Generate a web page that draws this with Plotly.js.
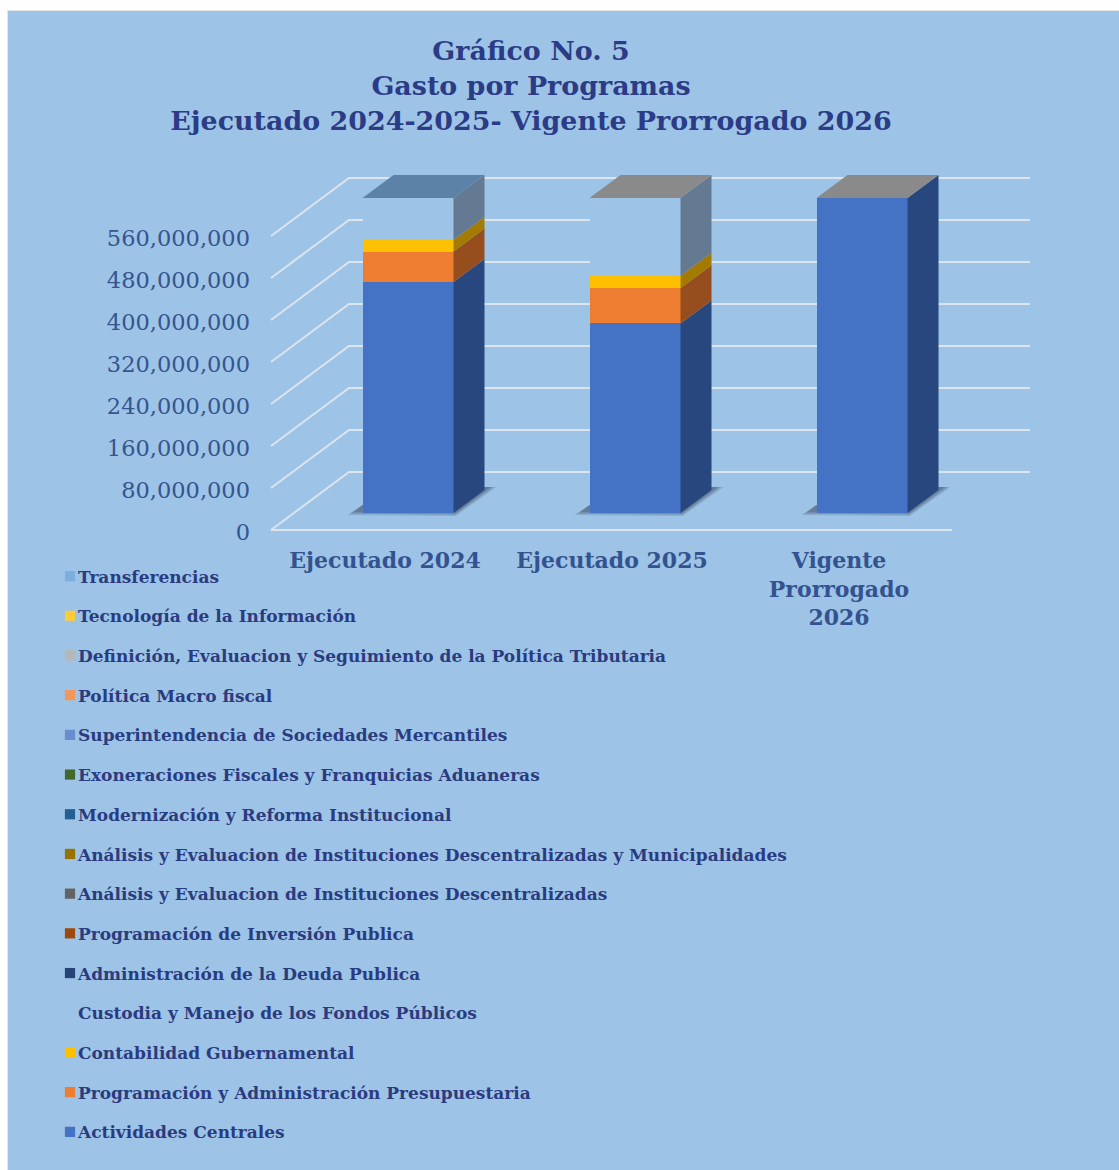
<!DOCTYPE html>
<html><head><meta charset="utf-8">
<script src="https://cdn.plot.ly/plotly-3.0.1.min.js"></script>
<style>html,body{margin:0;padding:0;background:#fff;overflow:hidden}
#chart{position:absolute;left:8px;top:11px;width:1111px;height:1159px;box-shadow:0 0 0 1px #dfe5ea}</style>
</head><body><div id="chart"></div>
<script>
const FONT = '"DejaVu Serif",serif';
const categories = ["Ejecutado 2024","Ejecutado 2025","Vigente<br>Prorrogado<br>2026"];
const tickValues = [0,80000000,160000000,240000000,320000000,400000000,480000000,560000000];

const actividadesCentrales = [440000000,361000000,600000000];
const programacionPresupuestaria = [58000000,67000000,0];
const contabilidadGubernamental = [22000000,24000000,0];
const custodiaFondos = [80000000,148000000,0];
const administracionDeuda = [0,0,0];
const programacionInversion = [0,0,0];
const analisisDescentralizadas = [0,0,0];
const analisisMunicipalidades = [0,0,0];
const modernizacion = [0,0,0];
const exoneraciones = [0,0,0];
const superintendencia = [0,0,0];
const politicaMacro = [0,0,0];
const politicaTributaria = [0,0,0];
const tecnologia = [0,0,0];
const transferencias = [0,0,0];

const BG = '#9dc3e6';
const seriesList = [
 ["Actividades Centrales",actividadesCentrales,'#4472c4','#28477f'],
 ["Programación y Administración Presupuestaria",programacionPresupuestaria,'#ed7d31','#964e1f'],
 ["Contabilidad Gubernamental",contabilidadGubernamental,'#ffc000','#a37b00'],
 ["Custodia y Manejo de los Fondos Públicos",custodiaFondos,BG,'#647a93'],
 ["Administración de la Deuda Publica",administracionDeuda,'#264478','#264478'],
 ["Programación de Inversión Publica",programacionInversion,'#9e480e','#9e480e'],
 ["Análisis y Evaluacion de Instituciones Descentralizadas",analisisDescentralizadas,'#636363','#636363'],
 ["Análisis y Evaluacion de Instituciones Descentralizadas y Municipalidades",analisisMunicipalidades,'#997300','#997300'],
 ["Modernización y Reforma Institucional",modernizacion,'#255e91','#255e91'],
 ["Exoneraciones Fiscales y Franquicias Aduaneras",exoneraciones,'#43682b','#43682b'],
 ["Superintendencia de Sociedades Mercantiles",superintendencia,'#698ed0','#698ed0'],
 ["Política Macro fiscal",politicaMacro,'#f1975a','#f1975a'],
 ["Definición, Evaluacion y Seguimiento de la Política Tributaria",politicaTributaria,'#b7b7b7','#b7b7b7'],
 ["Tecnología de la Información",tecnologia,'#ffcd33','#ffcd33'],
 ["Transferencias",transferencias,'#7cafdd','#7cafdd']
];
const topColors = ['#5c82a8','#8a8a8a','#8a8a8a'];

// page geometry (px)
const OX=8, OY=11, W=1111, H=1159;
const L=253, R=1040, T=150, B=540;
const CAT_X0=385, CAT_STEP=227, ZERO_Y=530, PX_PER_VAL=42/80000000;
const WALL_DX=78, WALL_DY=58, BAR_PLANE_DX=23, BAR_PLANE_DY=17, BAR_DX=31, BAR_DY=23;
const BAR_W=91/CAT_STEP;
const xu = px => px/CAT_STEP, yu = px => px/PX_PER_VAL;
const xRange=[(L-CAT_X0)/CAT_STEP,(R-CAT_X0)/CAT_STEP];
const yRange=[(ZERO_Y-B)/PX_PER_VAL,(ZERO_Y-T)/PX_PER_VAL];
const X_LEFT=xu(271-CAT_X0), X_FLOOR_END=xu(952-CAT_X0), X_WALL_END=xu(1030-CAT_X0);

const traces=[];
const GRID='#dbe5f0';
tickValues.forEach(v=>{
  const xs=[X_LEFT,X_LEFT+xu(WALL_DX),X_WALL_END], ys=[v,v+yu(WALL_DY),v+yu(WALL_DY)];
  traces.push({type:'scatter',mode:'lines',x:xs,y:ys,xaxis:'x',yaxis:'y',showlegend:false,hoverinfo:'skip',line:{color:GRID,width:2}});
});
traces.push({type:'scatter',mode:'lines',x:[X_LEFT,X_FLOOR_END],y:[0,0],xaxis:'x',yaxis:'y',showlegend:false,hoverinfo:'skip',line:{color:GRID,width:2}});
categories.forEach((c,i)=>{
  const cx=i+xu(BAR_PLANE_DX), xl=cx-BAR_W/2, xr=cx+BAR_W/2, b=yu(BAR_PLANE_DY);
  [[0,'rgba(50,65,90,0.18)'],[-3,'rgba(50,65,90,0.25)'],[-6,'rgba(50,65,90,0.25)']].forEach(([g,col])=>{
    traces.push({type:'scatter',mode:'lines',fill:'toself',fillcolor:col,line:{width:0},hoverinfo:'skip',showlegend:false,xaxis:'x',yaxis:'y',
      x:[xl-xu(15+g),xl,xr+xu(BAR_DX),xr+xu(BAR_DX+12+g),xr+xu(2),xl-xu(15+g)],
      y:[b-yu(2+g/2),b+yu(8),b+yu(BAR_DY+3),b+yu(BAR_DY+3),b-yu(3+g/2),b-yu(2+g/2)]});
  });
});
seriesList.forEach(([name,vals,col],idx)=>{
  traces.push({type:'bar',name:name,x:[0,1,2],y:vals,width:BAR_W,xaxis:'x2',yaxis:'y2',legendgroup:name,legendrank:1000-idx,
    marker:{color:col,line:{width:0}},hovertemplate:name+': %{y:,d}<extra></extra>'});
});
categories.forEach((c,i)=>{
  let base=0;
  const xr=i+BAR_W/2, xl=i-BAR_W/2, ddx=xu(BAR_DX), ddy=yu(BAR_DY);
  seriesList.forEach(([name,vals,col,side])=>{
    const v=vals[i]; if(!v) return;
    traces.push({type:'scatter',mode:'lines',fill:'toself',fillcolor:side,line:{width:0},hoverinfo:'skip',showlegend:false,xaxis:'x2',yaxis:'y2',
      x:[xr,xr+ddx,xr+ddx,xr,xr],y:[base,base+ddy,base+v+ddy,base+v,base]});
    base+=v;
  });
  traces.push({type:'scatter',mode:'lines',fill:'toself',fillcolor:topColors[i],line:{width:0},hoverinfo:'skip',showlegend:false,xaxis:'x2',yaxis:'y2',
    x:[xl,xr,xr+ddx,xl+ddx,xl],y:[base,base,base+ddy,base+ddy,base]});
});

const layout={
  width:W,height:H,paper_bgcolor:BG,plot_bgcolor:'rgba(0,0,0,0)',barmode:'stack',
  margin:{l:L-OX,r:W-(R-OX),t:T-OY,b:H-(B-OY),autoexpand:false,pad:0},
  font:{family:FONT},
  title:{text:"Gráfico No. 5<br>Gasto por Programas<br>Ejecutado 2024-2025- Vigente Prorrogado 2026",
    font:{family:FONT,size:26.9,color:'#2b3b85',weight:700},
    x:(531-OX)/W,xanchor:'center',xref:'container',y:1-(60-OY)/H,yanchor:'top',yref:'container'},
  xaxis:{type:'linear',range:xRange,tickmode:'array',tickvals:[0,1,2],ticktext:categories,showgrid:false,zeroline:false,showline:false,ticks:'',
    tickangle:0,ticklabelstandoff:5,tickfont:{family:FONT,size:22,color:'#33528f',weight:700}},
  yaxis:{type:'linear',range:yRange,tickmode:'array',tickvals:tickValues,tickformat:',d',showgrid:false,zeroline:false,showline:false,ticks:'',
    ticklabelshift:2,ticklabelstandoff:2,tickfont:{family:FONT,size:22.5,color:'#35558f'}},
  xaxis2:{type:'linear',overlaying:'x',anchor:'y2',visible:false,range:[xRange[0]-xu(BAR_PLANE_DX),xRange[1]-xu(BAR_PLANE_DX)]},
  yaxis2:{type:'linear',overlaying:'y',anchor:'x2',visible:false,range:[yRange[0]-yu(BAR_PLANE_DY),yRange[1]-yu(BAR_PLANE_DY)]},
  legend:{xref:'container',yref:'container',x:(38-OX)/W,xanchor:'left',y:1-(558.5-OY)/H,yanchor:'top',
    traceorder:'grouped',tracegroupgap:14.6,maxheight:640,bgcolor:'rgba(0,0,0,0)',
    font:{family:FONT,size:17,color:'#2b3b7f',weight:700},itemclick:false,itemdoubleclick:false},
  showlegend:true
};
Plotly.newPlot('chart',traces,layout,{displayModeBar:false,responsive:false}).then(()=>{
  document.querySelectorAll('#chart .legend .legendpoints path').forEach(p=>{
    p.setAttribute('transform','translate(32,0) scale(0.85)');
  });
});
</script></body></html>
